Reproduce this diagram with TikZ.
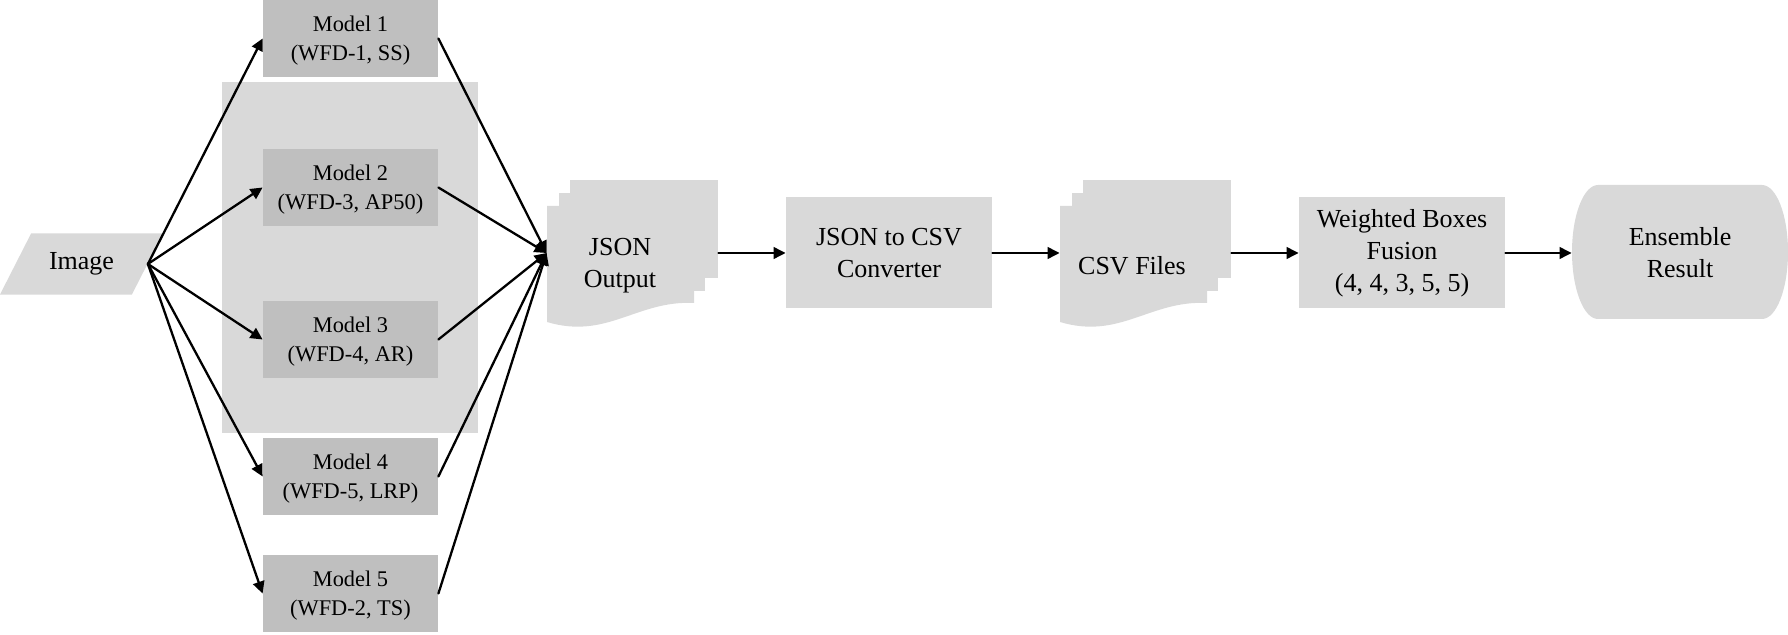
\documentclass[tikz,border=0pt]{standalone}
\usepackage{fontspec}
\setmainfont{Liberation Serif}
\usetikzlibrary{arrows.meta,shapes.geometric}
\definecolor{pipeInk}{HTML}{000000}
\definecolor{pipeFill}{HTML}{D9D9D9}
\definecolor{pipeModel}{HTML}{BFBFBF}
\tikzset{
  flow/.style   = {line width=1.15pt, color=pipeInk,
                   -{Triangle[length=6pt,width=5.8pt]}},
  stage/.style  = {fill=pipeFill, inner sep=0, align=center,
                   minimum width=103pt, minimum height=55.5pt,
                   font=\fontsize{13}{16}\selectfont},
  model/.style  = {fill=pipeModel, inner sep=0, align=center, text depth=0pt,
                   minimum width=87.5pt, minimum height=38.5pt,
                   font=\fontsize{11.2}{14.5}\selectfont},
  lbl/.style    = {inner sep=0, align=center,
                   font=\fontsize{13}{16}\selectfont},
  anchorbox/.style = {inner sep=0, minimum width=85.5pt, minimum height=70pt},
}

\begin{document}
\begin{tikzpicture}[x=0.5pt, y=-0.5pt, line cap=round]
\useasboundingbox (0,0) rectangle (1788,635);

% --- group behind models 2 and 3 ---
\fill[pipeFill] (222,82) rectangle (478,433);

% --- input ---
\node[lbl, shape=trapezium, fill=pipeFill, trapezium left angle=63,
      trapezium right angle=117, trapezium stretches body=true,
      inner xsep=2pt, inner ysep=9.6pt,
      minimum width=81.5pt] (img) at (81.5,264) {Image};

% --- the five models ---
\foreach \n/\y/\tag in {1/38.5/{WFD-1, SS}, 2/187.5/{WFD-3, AP50},
                        3/339.5/{WFD-4, AR}, 4/476.5/{WFD-5, LRP},
                        5/593.5/{WFD-2, TS}}
  \node[model] (m\n) at (350.5,\y) {Model \n\\(\tag)};

% --- stacked files: JSON output and CSV files ---
\foreach \x in {547,1060} {
  \fill[pipeFill] (\x+23,180) rectangle (\x+171,278);
  \fill[pipeFill] (\x+12,193) rectangle (\x+158,291);
  \fill[pipeFill] (\x,206) -- (\x+147,206) -- (\x+147,303)
    .. controls (\x+90,300) and (\x+60,340) .. (\x,322) -- cycle;
}
\node[anchorbox] (json) at (632.5,253) {};
\node[lbl] (jsonlbl) at (620,266) {JSON\\Output};
\node[anchorbox] (csv) at (1145.5,253) {};
\node[lbl] (csvlbl) at (1132,266) {CSV Files};

% --- processing stages ---
\node[stage] (conv) at (889,253) {JSON to CSV\\Converter};
\node[stage] (wbf) at (1402,253) {Weighted Boxes\\Fusion\\(4, 4, 3, 5, 5)};

% --- result ---
\fill[pipeFill] (1598,185)
  arc[start angle=-90, end angle=-270, x radius=26, y radius=67]
  -- (1762,319)
  arc[start angle=90, end angle=-90, x radius=26, y radius=67] -- cycle;
\node[lbl, minimum width=108pt, minimum height=67pt] (ens) at (1680,253)
  {Ensemble\\Result};

% --- connectors ---
\foreach \n in {1,...,5} {
  \draw[flow] (img.east) -- (m\n.west);
  \draw[flow] (m\n.east) -- (json.west);
}
\draw[flow] (json.east) -- (conv.west);
\draw[flow] (conv.east) -- (csv.west);
\draw[flow] (csv.east) -- (wbf.west);
\draw[flow] (wbf.east) -- (ens.west);

\end{tikzpicture}
\end{document}
